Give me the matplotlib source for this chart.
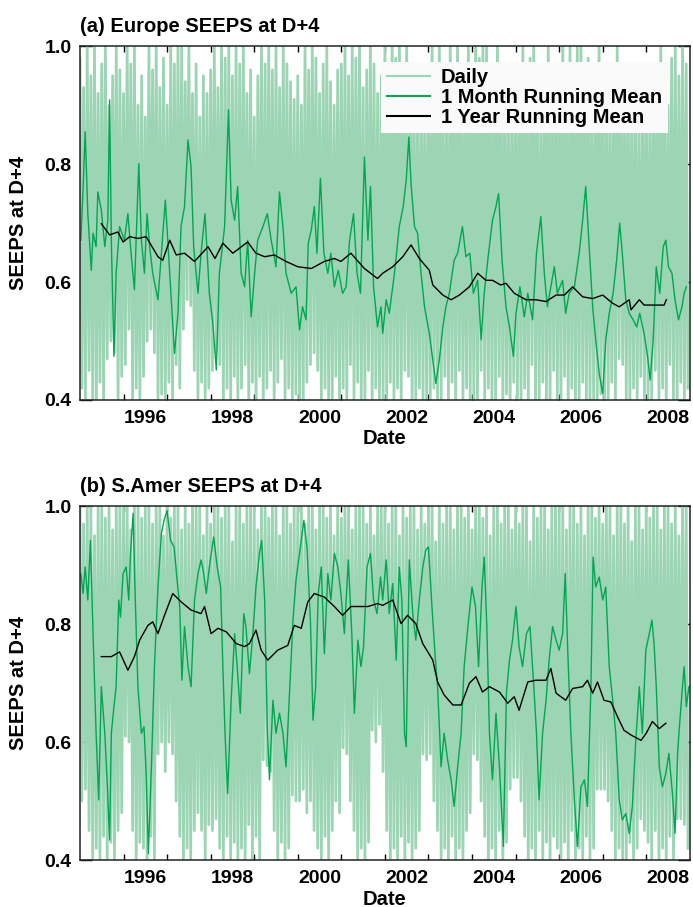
import matplotlib
matplotlib.use("Agg")
import numpy as np
import matplotlib.pyplot as plt

OUT_PATH = "out.png"

LIGHT_GREEN = "#9cd5b4"
GREEN = "#00a651"

# daily extremes, one high and one low reading per month, Jan 1995 .. Dec 2008
DAILY_START = 1995.0

EUROPE_DAILY_HI = [
    0.98, 0.93, 1.00, 0.95, 1.00, 0.92, 0.97, 1.00, 0.90, 0.95, 1.00, 0.96,
    0.92, 1.00, 0.97, 1.00, 0.90, 0.95, 0.88, 1.00, 0.96, 1.00, 0.93, 0.98,
    0.90, 1.00, 0.97, 1.00, 1.00, 0.94, 1.00, 0.92, 0.97, 0.88, 0.95, 0.92,
    0.96, 1.00, 0.93, 1.00, 0.98, 1.00, 0.95, 1.00, 0.97, 1.00, 0.92, 0.96,
    0.88, 0.95, 1.00, 0.97, 1.00, 0.96, 1.00, 0.93, 1.00, 0.97, 0.94, 0.91,
    0.95, 0.90, 1.00, 0.96, 1.00, 0.98, 0.92, 0.97, 1.00, 0.94, 0.90, 0.96,
    0.97, 1.00, 0.95, 1.00, 0.98, 1.00, 0.93, 0.96, 1.00, 0.97, 0.92, 0.95,
    1.00, 0.96, 1.00, 0.98, 1.00, 0.95, 1.00, 0.93, 0.97, 0.90, 0.95, 0.92,
    0.94, 1.00, 0.93, 1.00, 0.96, 0.90, 1.00, 0.95, 1.00, 0.97, 0.93, 1.00,
    0.96, 1.00, 0.98, 1.00, 1.00, 0.95, 0.97, 1.00, 0.93, 0.96, 0.90, 0.95,
    0.92, 0.97, 1.00, 0.94, 0.98, 1.00, 0.95, 0.90, 0.97, 1.00, 0.93, 0.96,
    0.97, 1.00, 0.93, 1.00, 0.96, 1.00, 1.00, 0.95, 0.98, 0.92, 0.96, 1.00,
    0.93, 0.97, 0.90, 0.95, 1.00, 0.96, 0.92, 0.97, 0.90, 0.94, 0.88, 0.93,
    0.95, 0.90, 0.97, 0.93, 1.00, 0.96, 0.90, 0.98, 1.00, 0.95, 1.00, 0.97,
]
EUROPE_DAILY_LO = [
    0.42, 0.40, 0.45, 0.40, 0.40, 0.43, 0.40, 0.47, 0.50, 0.48, 0.40, 0.44,
    0.46, 0.52, 0.40, 0.42, 0.40, 0.44, 0.50, 0.52, 0.48, 0.40, 0.41, 0.40,
    0.43, 0.40, 0.46, 0.42, 0.52, 0.57, 0.56, 0.45, 0.40, 0.43, 0.40, 0.42,
    0.45, 0.48, 0.46, 0.40, 0.42, 0.40, 0.44, 0.40, 0.42, 0.46, 0.40, 0.43,
    0.40, 0.44, 0.40, 0.42, 0.45, 0.40, 0.43, 0.47, 0.40, 0.42, 0.40, 0.41,
    0.40, 0.40, 0.43, 0.46, 0.48, 0.45, 0.40, 0.42, 0.40, 0.40, 0.44, 0.40,
    0.42, 0.40, 0.46, 0.40, 0.43, 0.40, 0.40, 0.45, 0.40, 0.42, 0.40, 0.40,
    0.40, 0.43, 0.40, 0.42, 0.40, 0.45, 0.44, 0.40, 0.40, 0.42, 0.40, 0.40,
    0.40, 0.42, 0.40, 0.40, 0.44, 0.40, 0.43, 0.40, 0.45, 0.40, 0.42, 0.40,
    0.40, 0.40, 0.45, 0.40, 0.42, 0.40, 0.40, 0.44, 0.40, 0.41, 0.40, 0.43,
    0.40, 0.40, 0.42, 0.40, 0.46, 0.40, 0.40, 0.43, 0.40, 0.40, 0.45, 0.40,
    0.40, 0.44, 0.40, 0.42, 0.40, 0.40, 0.43, 0.40, 0.40, 0.40, 0.40, 0.41,
    0.40, 0.40, 0.43, 0.40, 0.47, 0.46, 0.40, 0.40, 0.42, 0.40, 0.44, 0.40,
    0.40, 0.40, 0.45, 0.40, 0.42, 0.40, 0.46, 0.40, 0.40, 0.43, 0.40, 0.42,
]

SAMER_DAILY_HI = [
    1.00, 0.97, 1.00, 1.00, 0.95, 1.00, 1.00, 0.98, 1.00, 0.96, 1.00, 1.00,
    1.00, 1.00, 0.96, 1.00, 1.00, 0.98, 1.00, 1.00, 0.97, 1.00, 1.00, 0.95,
    1.00, 0.98, 1.00, 1.00, 0.96, 1.00, 0.97, 1.00, 1.00, 1.00, 0.95, 1.00,
    0.97, 1.00, 1.00, 0.98, 1.00, 1.00, 0.94, 1.00, 1.00, 0.97, 1.00, 1.00,
    1.00, 0.96, 1.00, 1.00, 0.98, 1.00, 1.00, 0.95, 1.00, 1.00, 0.97, 1.00,
    1.00, 1.00, 0.97, 1.00, 1.00, 0.96, 1.00, 1.00, 0.98, 1.00, 0.95, 1.00,
    0.98, 1.00, 1.00, 0.96, 1.00, 1.00, 1.00, 0.97, 1.00, 0.95, 1.00, 1.00,
    1.00, 0.97, 1.00, 1.00, 0.95, 1.00, 0.98, 1.00, 1.00, 0.96, 1.00, 0.97,
    1.00, 1.00, 0.94, 1.00, 0.97, 1.00, 1.00, 0.96, 1.00, 1.00, 0.98, 1.00,
    0.96, 1.00, 1.00, 0.98, 1.00, 0.95, 1.00, 1.00, 0.97, 1.00, 1.00, 0.96,
    1.00, 0.97, 1.00, 1.00, 0.94, 1.00, 0.98, 1.00, 1.00, 0.96, 1.00, 1.00,
    1.00, 1.00, 0.96, 1.00, 1.00, 0.97, 1.00, 0.95, 1.00, 1.00, 0.98, 1.00,
    0.97, 1.00, 1.00, 0.95, 1.00, 1.00, 0.97, 1.00, 0.94, 1.00, 1.00, 0.96,
    1.00, 0.98, 1.00, 1.00, 0.96, 1.00, 1.00, 0.97, 1.00, 0.95, 1.00, 1.00,
]
SAMER_DAILY_LO = [
    0.50, 0.52, 0.45, 0.40, 0.42, 0.40, 0.44, 0.40, 0.43, 0.40, 0.45, 0.48,
    0.61, 0.60, 0.45, 0.40, 0.43, 0.42, 0.40, 0.44, 0.40, 0.58, 0.60, 0.55,
    0.60, 0.58, 0.50, 0.44, 0.40, 0.42, 0.40, 0.45, 0.48, 0.45, 0.40, 0.46,
    0.45, 0.47, 0.42, 0.40, 0.44, 0.40, 0.43, 0.40, 0.42, 0.40, 0.46, 0.40,
    0.44, 0.40, 0.57, 0.56, 0.55, 0.45, 0.40, 0.43, 0.40, 0.42, 0.51, 0.50,
    0.50, 0.52, 0.48, 0.50, 0.45, 0.42, 0.40, 0.44, 0.40, 0.45, 0.50, 0.48,
    0.59, 0.58, 0.50, 0.45, 0.40, 0.42, 0.40, 0.43, 0.62, 0.60, 0.63, 0.55,
    0.45, 0.40, 0.42, 0.40, 0.44, 0.40, 0.43, 0.40, 0.42, 0.45, 0.58, 0.57,
    0.58, 0.50, 0.45, 0.40, 0.42, 0.40, 0.44, 0.40, 0.42, 0.40, 0.45, 0.48,
    0.58, 0.57, 0.50, 0.44, 0.40, 0.42, 0.40, 0.45, 0.40, 0.43, 0.52, 0.54,
    0.54, 0.50, 0.44, 0.40, 0.42, 0.40, 0.45, 0.40, 0.43, 0.40, 0.44, 0.42,
    0.40, 0.43, 0.40, 0.45, 0.40, 0.42, 0.40, 0.44, 0.40, 0.42, 0.52, 0.52,
    0.52, 0.50, 0.45, 0.40, 0.42, 0.40, 0.40, 0.43, 0.40, 0.42, 0.47, 0.45,
    0.43, 0.40, 0.45, 0.40, 0.42, 0.40, 0.44, 0.40, 0.47, 0.47, 0.46, 0.42,
]

# 1 month running mean (decimal year, value)
EUROPE_MONTH_T = [
    1995.02, 1995.07, 1995.12, 1995.18, 1995.26, 1995.30, 1995.37, 1995.41, 1995.49, 1995.57,
    1995.64, 1995.68, 1995.72, 1995.78, 1995.83, 1995.91, 1996.02, 1996.10, 1996.18, 1996.25,
    1996.35, 1996.41, 1996.48, 1996.54, 1996.60, 1996.67, 1996.79, 1996.87, 1996.96, 1997.06,
    1997.17, 1997.25, 1997.32, 1997.40, 1997.48, 1997.55, 1997.61, 1997.71, 1997.78, 1997.87,
    1997.97, 1998.05, 1998.13, 1998.20, 1998.32, 1998.41, 1998.47, 1998.55, 1998.62, 1998.70,
    1998.78, 1998.85, 1998.93, 1999.01, 1999.08, 1999.20, 1999.30, 1999.39, 1999.50, 1999.58,
    1999.66, 1999.73, 1999.85, 1999.96, 2000.04, 2000.11, 2000.19, 2000.24, 2000.31, 2000.38,
    2000.44, 2000.52, 2000.60, 2000.69, 2000.76, 2000.84, 2000.93, 2001.03, 2001.11, 2001.19,
    2001.28, 2001.36, 2001.44, 2001.53, 2001.61, 2001.67, 2001.74, 2001.83, 2001.91, 2001.95,
    2002.03, 2002.10, 2002.22, 2002.33, 2002.42, 2002.49, 2002.55, 2002.60, 2002.68, 2002.75,
    2002.83, 2002.91, 2003.02, 2003.10, 2003.17, 2003.25, 2003.33, 2003.40, 2003.48, 2003.59,
    2003.67, 2003.78, 2003.86, 2003.95, 2004.03, 2004.13, 2004.21, 2004.28, 2004.38, 2004.47,
    2004.55, 2004.61, 2004.69, 2004.78, 2004.86, 2004.95, 2005.01, 2005.10, 2005.20, 2005.28,
    2005.39, 2005.48, 2005.58, 2005.66, 2005.73, 2005.81, 2005.89, 2005.96, 2006.08, 2006.15,
    2006.23, 2006.35, 2006.46, 2006.54, 2006.61, 2006.69, 2006.77, 2006.84, 2006.92, 2007.00,
    2007.07, 2007.15, 2007.24, 2007.32, 2007.39, 2007.45, 2007.53, 2007.61, 2007.70, 2007.78,
    2007.85, 2007.95, 2008.03, 2008.09, 2008.16, 2008.23, 2008.31, 2008.39, 2008.45, 2008.51,
    2008.59, 2008.66, 2008.74, 2008.82, 2008.87, 2008.92,
]
EUROPE_MONTH_V = [
    0.671, 0.756, 0.855, 0.716, 0.620, 0.683, 0.660, 0.753, 0.722, 0.660,
    0.705, 0.909, 0.671, 0.474, 0.615, 0.694, 0.671, 0.716, 0.643, 0.587,
    0.801, 0.671, 0.615, 0.716, 0.660, 0.615, 0.570, 0.649, 0.739, 0.615,
    0.479, 0.547, 0.694, 0.728, 0.841, 0.796, 0.660, 0.581, 0.649, 0.716,
    0.581, 0.530, 0.451, 0.615, 0.694, 0.892, 0.739, 0.705, 0.762, 0.615,
    0.592, 0.671, 0.541, 0.615, 0.671, 0.694, 0.716, 0.671, 0.626, 0.753,
    0.694, 0.615, 0.581, 0.592, 0.519, 0.558, 0.536, 0.666, 0.688, 0.728,
    0.649, 0.776, 0.649, 0.615, 0.649, 0.592, 0.620, 0.581, 0.592, 0.671,
    0.716, 0.615, 0.581, 0.812, 0.671, 0.762, 0.592, 0.524, 0.558, 0.513,
    0.570, 0.547, 0.615, 0.694, 0.728, 0.773, 0.846, 0.767, 0.694, 0.683,
    0.615, 0.558, 0.513, 0.468, 0.428, 0.468, 0.524, 0.558, 0.581, 0.637,
    0.649, 0.694, 0.643, 0.649, 0.581, 0.603, 0.502, 0.581, 0.649, 0.705,
    0.728, 0.750, 0.637, 0.558, 0.524, 0.474, 0.547, 0.592, 0.541, 0.581,
    0.536, 0.649, 0.711, 0.615, 0.558, 0.592, 0.626, 0.581, 0.603, 0.547,
    0.581, 0.592, 0.649, 0.705, 0.762, 0.660, 0.558, 0.502, 0.445, 0.411,
    0.502, 0.547, 0.581, 0.637, 0.700, 0.649, 0.570, 0.547, 0.536, 0.524,
    0.547, 0.513, 0.474, 0.434, 0.502, 0.626, 0.581, 0.660, 0.671, 0.626,
    0.615, 0.570, 0.536, 0.558, 0.581, 0.592,
]

SAMER_MONTH_T = [
    1995.02, 1995.07, 1995.12, 1995.18, 1995.24, 1995.30, 1995.37, 1995.43, 1995.49, 1995.57,
    1995.63, 1995.68, 1995.72, 1995.78, 1995.83, 1995.89, 1995.93, 1995.99, 1996.06, 1996.12,
    1996.16, 1996.22, 1996.27, 1996.33, 1996.41, 1996.47, 1996.52, 1996.57, 1996.64, 1996.71,
    1996.79, 1996.87, 1996.93, 1997.00, 1997.08, 1997.16, 1997.23, 1997.29, 1997.34, 1997.40,
    1997.48, 1997.55, 1997.63, 1997.71, 1997.78, 1997.84, 1997.90, 1997.97, 1998.07, 1998.15,
    1998.23, 1998.28, 1998.33, 1998.39, 1998.47, 1998.55, 1998.61, 1998.68, 1998.76, 1998.81,
    1998.89, 1998.97, 1999.04, 1999.12, 1999.17, 1999.24, 1999.30, 1999.35, 1999.43, 1999.50,
    1999.58, 1999.66, 1999.73, 1999.81, 1999.89, 1999.96, 2000.06, 2000.14, 2000.21, 2000.29,
    2000.35, 2000.41, 2000.47, 2000.54, 2000.61, 2000.69, 2000.76, 2000.84, 2000.92, 2000.99,
    2001.07, 2001.16, 2001.24, 2001.30, 2001.38, 2001.45, 2001.51, 2001.59, 2001.67, 2001.74,
    2001.82, 2001.90, 2001.95, 2002.03, 2002.10, 2002.18, 2002.26, 2002.33, 2002.39, 2002.45,
    2002.49, 2002.56, 2002.64, 2002.71, 2002.79, 2002.87, 2002.94, 2003.00, 2003.08, 2003.16,
    2003.21, 2003.29, 2003.36, 2003.44, 2003.52, 2003.59, 2003.67, 2003.75, 2003.82, 2003.92,
    2004.00, 2004.08, 2004.15, 2004.23, 2004.28, 2004.34, 2004.40, 2004.47, 2004.55, 2004.63,
    2004.72, 2004.79, 2004.86, 2004.93, 2005.01, 2005.08, 2005.16, 2005.25, 2005.33, 2005.41,
    2005.48, 2005.54, 2005.62, 2005.70, 2005.77, 2005.85, 2005.93, 2006.00, 2006.08, 2006.14,
    2006.20, 2006.27, 2006.35, 2006.42, 2006.50, 2006.58, 2006.65, 2006.73, 2006.78, 2006.84,
    2006.92, 2007.00, 2007.07, 2007.15, 2007.23, 2007.30, 2007.38, 2007.45, 2007.53, 2007.61,
    2007.68, 2007.76, 2007.84, 2007.91, 2007.99, 2008.07, 2008.13, 2008.18, 2008.23, 2008.30,
    2008.37, 2008.45, 2008.52, 2008.60, 2008.66, 2008.72, 2008.75, 2008.82, 2008.87, 2008.92,
    2008.98,
]
SAMER_MONTH_V = [
    0.886, 0.852, 0.897, 0.841, 0.942, 0.784, 0.615, 0.502, 0.694, 0.615,
    0.524, 0.434, 0.615, 0.660, 0.694, 0.841, 0.812, 0.886, 0.897, 0.841,
    0.920, 0.988, 0.841, 0.694, 0.615, 0.626, 0.547, 0.411, 0.558, 0.728,
    0.863, 0.954, 0.976, 0.993, 0.942, 0.931, 0.875, 0.830, 0.705, 0.796,
    0.728, 0.694, 0.841, 0.886, 0.909, 0.886, 0.852, 0.897, 0.948, 0.897,
    0.863, 0.728, 0.615, 0.513, 0.671, 0.784, 0.728, 0.649, 0.818, 0.796,
    0.716, 0.784, 0.863, 0.920, 0.942, 0.841, 0.626, 0.536, 0.671, 0.615,
    0.649, 0.615, 0.558, 0.683, 0.807, 0.875, 0.931, 0.976, 0.931, 0.807,
    0.637, 0.694, 0.852, 0.897, 0.750, 0.886, 0.841, 0.920, 0.897, 0.852,
    0.784, 0.909, 0.784, 0.649, 0.773, 0.728, 0.762, 0.897, 0.920, 0.841,
    0.818, 0.880, 0.841, 0.909, 0.818, 0.869, 0.739, 0.897, 0.841, 0.615,
    0.592, 0.909, 0.818, 0.773, 0.841, 0.897, 0.926, 0.931, 0.830, 0.739,
    0.694, 0.558, 0.615, 0.570, 0.536, 0.491, 0.558, 0.615, 0.728, 0.807,
    0.863, 0.830, 0.728, 0.863, 0.914, 0.796, 0.615, 0.536, 0.649, 0.558,
    0.423, 0.683, 0.739, 0.773, 0.830, 0.762, 0.728, 0.784, 0.796, 0.705,
    0.615, 0.502, 0.615, 0.671, 0.739, 0.796, 0.773, 0.756, 0.784, 0.886,
    0.750, 0.615, 0.502, 0.423, 0.524, 0.536, 0.491, 0.694, 0.914, 0.863,
    0.880, 0.841, 0.863, 0.728, 0.671, 0.615, 0.502, 0.468, 0.479, 0.445,
    0.491, 0.603, 0.694, 0.615, 0.756, 0.784, 0.807, 0.767, 0.694, 0.558,
    0.524, 0.547, 0.581, 0.513, 0.445, 0.581, 0.615, 0.683, 0.728, 0.660,
    0.694,
]

# 1 year running mean (decimal year, value)
EUROPE_YEAR_T = [
    1995.49, 1995.68, 1995.87, 1995.99, 1996.14, 1996.33, 1996.52, 1996.79, 1996.90, 1997.06,
    1997.21, 1997.40, 1997.63, 1997.94, 1998.10, 1998.28, 1998.51, 1998.85, 1999.04, 1999.24,
    1999.46, 1999.73, 2000.00, 2000.31, 2000.61, 2000.84, 2000.99, 2001.22, 2001.53, 2001.83,
    2001.95, 2002.18, 2002.41, 2002.60, 2002.79, 2003.02, 2003.10, 2003.33, 2003.52, 2003.71,
    2003.94, 2004.13, 2004.32, 2004.47, 2004.66, 2004.78, 2004.97, 2005.24, 2005.47, 2005.70,
    2005.93, 2006.12, 2006.31, 2006.54, 2006.77, 2007.00, 2007.23, 2007.38, 2007.61, 2007.65,
    2007.84, 2007.95, 2008.22, 2008.41, 2008.46,
]
EUROPE_YEAR_V = [
    0.699, 0.680, 0.685, 0.668, 0.677, 0.674, 0.677, 0.643, 0.637, 0.671,
    0.646, 0.649, 0.635, 0.660, 0.640, 0.666, 0.649, 0.668, 0.649, 0.643,
    0.646, 0.635, 0.626, 0.623, 0.635, 0.640, 0.635, 0.649, 0.623, 0.606,
    0.615, 0.626, 0.643, 0.663, 0.640, 0.620, 0.595, 0.578, 0.570, 0.578,
    0.592, 0.615, 0.603, 0.603, 0.595, 0.598, 0.581, 0.570, 0.570, 0.567,
    0.578, 0.578, 0.592, 0.575, 0.572, 0.578, 0.564, 0.558, 0.570, 0.553,
    0.570, 0.561, 0.561, 0.561, 0.570,
]

SAMER_YEAR_T = [
    1995.49, 1995.72, 1995.91, 1996.10, 1996.25, 1996.37, 1996.56, 1996.67, 1996.79, 1996.94,
    1997.13, 1997.32, 1997.55, 1997.78, 1997.86, 1998.01, 1998.17, 1998.36, 1998.59, 1998.78,
    1998.89, 1999.04, 1999.16, 1999.31, 1999.54, 1999.77, 1999.92, 2000.08, 2000.23, 2000.38,
    2000.61, 2000.84, 2001.03, 2001.22, 2001.41, 2001.61, 2001.83, 2001.95, 2002.18, 2002.37,
    2002.52, 2002.71, 2002.87, 2003.10, 2003.21, 2003.36, 2003.56, 2003.75, 2003.94, 2004.09,
    2004.24, 2004.40, 2004.63, 2004.82, 2004.97, 2005.08, 2005.28, 2005.47, 2005.70, 2005.81,
    2005.93, 2006.15, 2006.31, 2006.54, 2006.65, 2006.77, 2006.88, 2007.03, 2007.19, 2007.34,
    2007.49, 2007.65, 2007.88, 2008.00, 2008.14, 2008.30, 2008.45,
]
SAMER_YEAR_V = [
    0.745, 0.745, 0.753, 0.722, 0.745, 0.773, 0.798, 0.804, 0.784, 0.815,
    0.852, 0.838, 0.824, 0.818, 0.830, 0.784, 0.793, 0.787, 0.767, 0.762,
    0.767, 0.790, 0.756, 0.739, 0.756, 0.764, 0.798, 0.793, 0.838, 0.852,
    0.846, 0.830, 0.815, 0.830, 0.830, 0.830, 0.835, 0.832, 0.841, 0.801,
    0.815, 0.801, 0.767, 0.739, 0.702, 0.680, 0.663, 0.663, 0.700, 0.711,
    0.685, 0.694, 0.685, 0.666, 0.677, 0.654, 0.702, 0.705, 0.705, 0.725,
    0.683, 0.671, 0.691, 0.694, 0.705, 0.683, 0.702, 0.671, 0.668, 0.643,
    0.620, 0.612, 0.603, 0.615, 0.635, 0.623, 0.632,
]

YEAR_TICKS = list(range(1996, 2009))
YEAR_LABELS = [str(y) for y in range(1996, 2009, 2)]
Y_TICKS = [0.4, 0.6, 0.8, 1.0]


def daily_trace(hi, lo):
    # each month gives a high day and a low day, drawn in time order
    t, v = [], []
    for i, (h, l) in enumerate(zip(hi, lo)):
        t += [DAILY_START + i / 12.0, DAILY_START + (i + 0.5) / 12.0]
        v += [h, l]
    return np.array(t), np.array(v)


def draw_panel(ax, title, hi, lo, month_t, month_v, year_t, year_v, legend=False):
    dt, dv = daily_trace(hi, lo)
    ax.plot(dt, dv, color=LIGHT_GREEN, lw=2.0, label="Daily")
    ax.plot(month_t, month_v, color=GREEN, lw=1.0, label="1 Month Running Mean")
    ax.plot(year_t, year_v, color="black", lw=1.0, label="1 Year Running Mean")

    ax.set_xlim(1995.0, 2009.0)
    ax.set_ylim(0.4, 1.0)

    ax.set_xticks(YEAR_TICKS)
    ax.set_xticklabels([])
    ax.set_xticks([int(s) + 0.5 for s in YEAR_LABELS], minor=True)
    ax.set_xticklabels(YEAR_LABELS, minor=True, fontsize=14)
    ax.tick_params(axis="x", which="major", direction="in", length=4.5, width=1.0,
                   top=True, bottom=True)
    ax.tick_params(axis="x", which="minor", length=0, pad=7)

    ax.set_yticks(Y_TICKS)
    ax.set_yticklabels(["%.1f" % v for v in Y_TICKS], fontsize=14)
    ax.tick_params(axis="y", direction="in", length=8.5, width=1.0,
                   left=True, right=True, pad=6)

    for s in ax.spines.values():
        s.set_linewidth(1.1)
        s.set_color("#222222")
        s.set_zorder(5)

    ax.set_title(title, loc="left", fontsize=14.5, fontweight="bold", pad=10)
    ax.set_xlabel("Date", fontsize=14.5, fontweight="bold", labelpad=2)
    ax.set_ylabel("SEEPS at D+4", fontsize=14.5, fontweight="bold", labelpad=12)

    if legend:
        leg = ax.legend(loc="upper right", bbox_to_anchor=(0.964, 0.955),
                        fontsize=14.5, frameon=True, fancybox=False,
                        borderpad=0.3, borderaxespad=0, labelspacing=0.05,
                        handlelength=2.1, handletextpad=0.55)
        leg.get_frame().set_facecolor("#fafafa")
        leg.get_frame().set_edgecolor("none")
        leg.get_frame().set_alpha(1.0)
        for line in leg.get_lines():
            line.set_linewidth(1.5)


def main():
    plt.rcParams["font.family"] = ["Liberation Sans", "DejaVu Sans"]
    plt.rcParams["font.weight"] = "bold"

    fig = plt.figure(figsize=(6.93, 9.07), dpi=100)
    ax_a = fig.add_axes([0.1154, 0.559, 0.880, 0.390])
    ax_b = fig.add_axes([0.1154, 0.0518, 0.880, 0.390])

    draw_panel(ax_a, "(a) Europe SEEPS at D+4", EUROPE_DAILY_HI, EUROPE_DAILY_LO,
               EUROPE_MONTH_T, EUROPE_MONTH_V, EUROPE_YEAR_T, EUROPE_YEAR_V, legend=True)
    draw_panel(ax_b, "(b) S.Amer SEEPS at D+4", SAMER_DAILY_HI, SAMER_DAILY_LO,
               SAMER_MONTH_T, SAMER_MONTH_V, SAMER_YEAR_T, SAMER_YEAR_V)

    fig.savefig(OUT_PATH, dpi=100)
    plt.close(fig)


if __name__ == "__main__":
    main()
